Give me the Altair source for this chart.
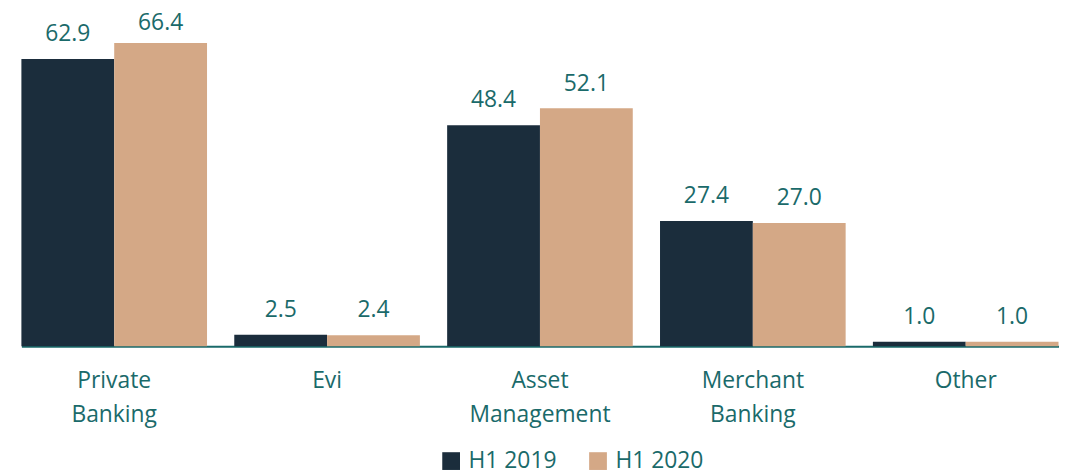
import altair as alt
import pandas as pd

categories = ["Private Banking", "Evi", "Asset Management", "Merchant Banking", "Other"]
series = ["H1 2019", "H1 2020"]
h1_2019 = [62.9, 2.5, 48.4, 27.4, 1.0]
h1_2020 = [66.4, 2.4, 52.1, 27.0, 1.0]

rows = []
for c, a, b in zip(categories, h1_2019, h1_2020):
    rows.append({"cat": c, "series": series[0], "value": a})
    rows.append({"cat": c, "series": series[1], "value": b})
df = pd.DataFrame(rows)

TEAL = "#1a6a6a"
FONT = "Open Sans"
FS = 23

x = alt.X("cat:N", sort=categories,
          scale=alt.Scale(paddingInner=0.128, paddingOuter=0, range=[13.5, 1058.5]),
          axis=alt.Axis(title=None, labelExpr="split(datum.value, ' ')",
                        labelAngle=0, labelFontSize=FS, labelColor=TEAL,
                        labelFont=FONT, labelPadding=24, labelLineHeight=34,
                        ticks=False, domainColor=TEAL, domainWidth=2,
                        labelBaseline="top"))
yscale = alt.Scale(domain=[0, 73.26], nice=False, zero=True)
y = alt.Y("value:Q", scale=yscale, axis=None)
xo = alt.XOffset("series:N", sort=series)

color = alt.Color("series:N", sort=series,
                  scale=alt.Scale(domain=series, range=["#1b2d3c", "#d4a886"]),
                  legend=alt.Legend(title=None, orient="none", direction="horizontal",
                                    legendX=435, legendY=441,
                                    symbolType="square", symbolSize=320,
                                    symbolStrokeWidth=0, labelFontSize=FS,
                                    labelColor=TEAL, labelFont=FONT,
                                    columnPadding=30, labelOffset=6))

bars = alt.Chart(df).mark_bar(stroke=None).encode(x=x, y=y, xOffset=xo, color=color)
labels = alt.Chart(df).transform_calculate(
    labelpos="min(datum.value + 3.9, 69.3)"
).mark_text(baseline="alphabetic", fontSize=FS, color=TEAL, font=FONT).encode(
    x=x, y=alt.Y("labelpos:Q", scale=yscale, axis=None), xOffset=xo,
    text=alt.Text("value:Q", format=".1f"))

chart = (bars + labels).properties(
    width=1061, height=337,
    padding={"top": 2, "left": 0, "right": 0, "bottom": 0},
).configure_view(stroke=None)

chart.save("out.html", embed_options={"renderer": "svg", "actions": False})
